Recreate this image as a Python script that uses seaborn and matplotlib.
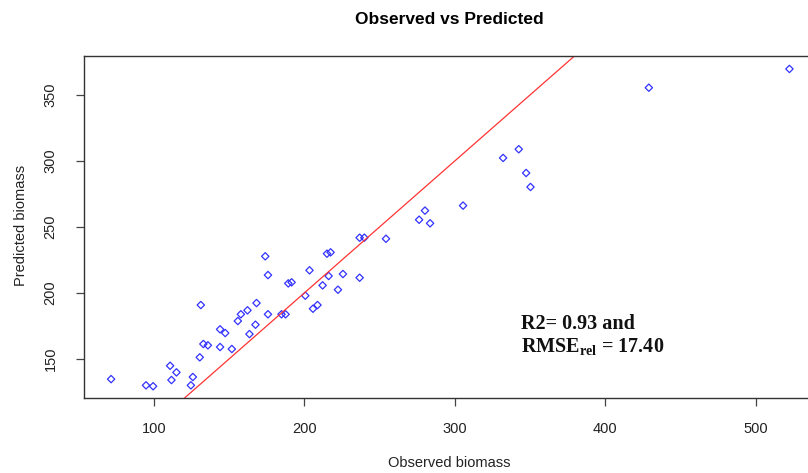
import matplotlib
matplotlib.use("Agg")
import matplotlib.pyplot as plt
import seaborn as sns
import pandas as pd

observed = [71.7, 94.9, 99.6, 110.9, 115.1, 111.8, 126.0, 124.7, 130.6, 131.3,
            133.0, 136.0, 144.1, 147.5, 144.1, 151.9, 155.9, 157.9, 162.3, 168.3,
            163.6, 167.6, 174.1, 175.9, 175.9,
            184.9, 187.6, 189.4, 191.6, 200.7, 203.5, 205.8, 208.8, 212.2, 215.1,
            217.5, 216.2, 222.4, 225.7, 236.8, 239.9, 236.8, 254.3,
            280.2, 276.3, 283.6, 305.5, 332.1, 342.5, 347.4, 350.3, 428.9, 522.3]
predicted = [134.8, 130.1, 129.4, 144.9, 139.9, 134.1, 136.4, 130.1, 151.3, 190.9,
             161.4, 160.4, 172.5, 169.7, 159.1, 157.6, 178.8, 183.9, 186.9, 192.4,
             168.9, 176.0, 227.8, 213.6, 183.9,
             183.9, 183.9, 207.3, 208.1, 198.0, 217.2, 188.1, 190.9, 205.8, 229.8,
             230.8, 212.9, 202.5, 214.4, 241.9, 241.9, 211.6, 241.1,
             262.4, 255.5, 252.8, 266.2, 302.3, 308.9, 290.9, 280.3, 355.5, 369.7]
x_ticks = [100, 200, 300, 400, 500]
y_ticks = [150, 200, 250, 300, 350]

df = pd.DataFrame({"Observed": observed, "Predicted": predicted})

sns.set_style("white")
plt.rcParams["font.family"] = ["Liberation Sans", "DejaVu Sans"]
plt.rcParams["mathtext.fontset"] = "custom"
plt.rcParams["mathtext.rm"] = "Liberation Serif:bold"
plt.rcParams["mathtext.bf"] = "Liberation Serif:bold"

fig = plt.figure(figsize=(8.08, 4.73), dpi=100)
ax = fig.add_axes([84 / 808, 1 - 398 / 473, 1 - 84 / 808 + 0.01, (398 - 56) / 473])

sns.scatterplot(data=df, x="Observed", y="Predicted", ax=ax, marker="D",
                s=14, facecolor="none", edgecolor="#3333ff", linewidth=0.9,
                legend=False)
ax.axline((0, 0), slope=1, color="#ff3333", linewidth=0.9, zorder=1)

ax.set_xlim(53.7, 540)
ax.set_ylim(120.5, 379.5)
ax.set_xticks(x_ticks)
ax.set_yticks(y_ticks)
ax.set_xticklabels([str(v) for v in x_ticks], fontsize=10.5, color="#222222")
ax.set_yticklabels([str(v) for v in y_ticks], fontsize=10.5, color="#222222",
                   rotation=90, va="center")
ax.tick_params(axis="both", direction="out", length=6, width=0.9, color="#444444",
               bottom=True, left=True)
ax.tick_params(axis="x", pad=11)
ax.tick_params(axis="y", pad=13)
for side in ["top", "left", "bottom"]:
    ax.spines[side].set_color("#333333")
    ax.spines[side].set_linewidth(1.0)
ax.spines["right"].set_visible(False)
ax.set_xlabel("")
ax.set_ylabel("")

fig.text(449 / 808, 1 - 20 / 473, "Observed vs Predicted", ha="center", va="center",
         fontsize=12.5, fontweight="bold", color="black")
fig.text(449 / 808, 1 - 463 / 473, "Observed biomass", ha="center", va="center",
         fontsize=10.5, color="#222222")
fig.text(21 / 808, 1 - 225 / 473, "Predicted biomass", ha="center", va="center",
         fontsize=10.5, color="#222222", rotation=90)

ax.text(344, 176.5, "R2= 0.93 and", ha="left", va="center",
        fontsize=14.5, fontweight="bold", family="Liberation Serif", color="#111111")
ax.text(344, 158.5, r"RMSE$_{\mathrm{rel}}$ = 17.40", ha="left", va="center",
        fontsize=14.5, fontweight="bold", family="Liberation Serif", color="#111111")

fig.savefig("out.png", dpi=100)
